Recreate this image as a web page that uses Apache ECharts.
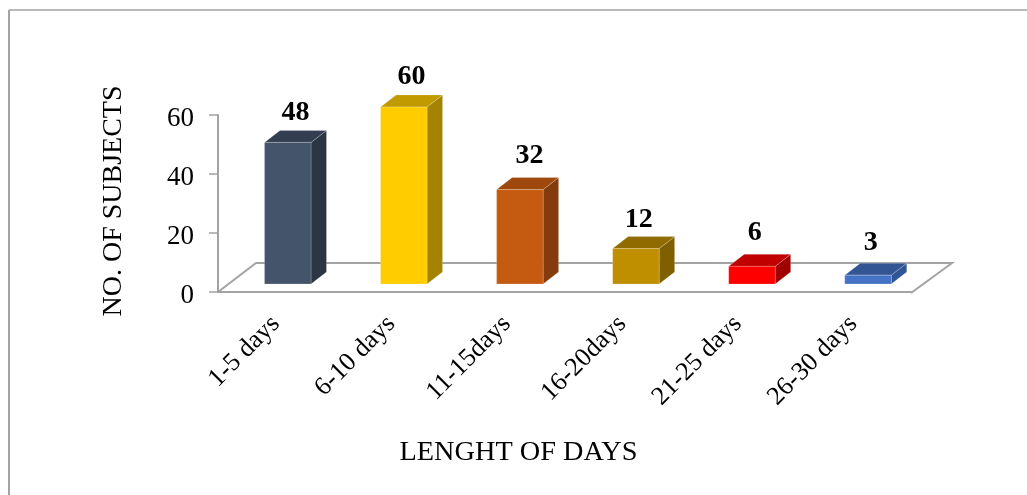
<!DOCTYPE html>
<html>
<head>
<meta charset="utf-8">
<style>html,body{margin:0;padding:0;background:#fff}#chart{width:1027px;height:495px}</style>
<script src="https://cdn.jsdelivr.net/npm/echarts@6/dist/echarts.min.js"></script>
</head>
<body>
<div id="chart"></div>
<script>
const categories = ['1-5 days', '6-10 days', '11-15days', '16-20days', '21-25 days', '26-30 days'];
const subjects = [48, 60, 32, 12, 6, 3];
const frontColors = ['#44546A', '#FFCC00', '#C55A11', '#BF8F00', '#FF0000', '#4472C4'];
const topColors = ['#333F50', '#C09A00', '#9E480E', '#8F6B00', '#C00000', '#335593'];
const sideColors = ['#2A3644', '#A38300', '#843C0C', '#7F6000', '#A00000', '#2F5597'];
const labelLift = [4, 4, 8, 3, 8, 6];
const labelShift = [0, 0, 2, -5, -5, -5];

const serif = '"Liberation Serif", "Times New Roman", serif';
const axisGrey = '#A3A3A3';
const DEPTH_X = 15.5, DEPTH_Y = 12;   // oblique extrusion of each column
const BASE_X = 12, BASE_Y = 8;        // columns stand in the middle of the floor
const DRIFT_X = 0.55;                 // columns spread a touch wider than the ticks
const BAR_W = 46.5;

const chart = echarts.init(document.getElementById('chart'), null, { renderer: 'canvas' });

function renderFloor(params, api) {
  const g = params.coordSys;
  const x0 = g.x, y0 = g.y + g.height, x1 = g.x + g.width;
  return {
    type: 'polyline',
    silent: true,
    shape: { points: [[x0, y0], [x0 + 38, y0 - 29], [x1 + 41, y0 - 29], [x1, y0 + 1]] },
    style: { stroke: axisGrey, lineWidth: 2, fill: 'none' }
  };
}

function renderColumn(params, api) {
  const i = api.value(0);
  const top = api.coord([i, api.value(1)]);
  const base = api.coord([i, 0]);
  const x = top[0] + BASE_X + DRIFT_X * i - BAR_W / 2;
  const yTop = top[1] - BASE_Y;
  const yBot = base[1] - BASE_Y;
  const xr = x + BAR_W;
  const edge = { stroke: 'rgba(255,255,255,0.35)', lineWidth: 0.6 };
  return {
    type: 'group',
    children: [
      { type: 'polygon',
        shape: { points: [[xr, yTop], [xr + DEPTH_X, yTop - DEPTH_Y], [xr + DEPTH_X, yBot - DEPTH_Y], [xr, yBot]] },
        style: Object.assign({ fill: sideColors[i] }, edge) },
      { type: 'polygon',
        shape: { points: [[x, yTop], [x + DEPTH_X, yTop - DEPTH_Y], [xr + DEPTH_X, yTop - DEPTH_Y], [xr, yTop]] },
        style: Object.assign({ fill: topColors[i] }, edge) },
      { type: 'rect',
        shape: { x: x, y: yTop, width: BAR_W, height: yBot - yTop },
        style: Object.assign({ fill: frontColors[i] }, edge) },
      { type: 'text',
        style: {
          x: x + (BAR_W + DEPTH_X) / 2 + labelShift[i],
          y: yTop - DEPTH_Y - labelLift[i],
          text: String(api.value(1)),
          font: 'bold 28px ' + serif,
          fill: '#000',
          align: 'center',
          verticalAlign: 'bottom'
        } }
    ]
  };
}

chart.setOption({
  animation: false,
  backgroundColor: '#fff',
  grid: { left: 218, right: 116, top: 115, bottom: 203 },
  xAxis: {
    type: 'category',
    data: categories,
    axisLine: { lineStyle: { color: axisGrey, width: 2 } },
    axisTick: { alignWithLabel: false, length: 7, lineStyle: { color: axisGrey, width: 1.5 } },
    axisLabel: { rotate: 45, fontFamily: serif, fontSize: 26, color: '#000', margin: 28, interval: 0 },
    name: 'LENGHT OF DAYS',
    nameLocation: 'middle',
    nameGap: 147,
    nameTextStyle: { fontFamily: serif, fontSize: 28.3, color: '#000', padding: [0, 92, 0, 0] }
  },
  yAxis: {
    type: 'value',
    min: 0,
    max: 60,
    interval: 20,
    splitLine: { show: false },
    axisLine: { show: true, lineStyle: { color: axisGrey, width: 2 } },
    axisTick: { show: true, length: 9, lineStyle: { color: axisGrey, width: 1.5 } },
    axisLabel: { fontFamily: serif, fontSize: 27, color: '#000', margin: 24, verticalAlign: 'top', lineHeight: 7 },
    name: 'NO. OF SUBJECTS',
    nameLocation: 'middle',
    nameGap: 90,
    nameRotate: 90,
    nameTextStyle: { fontFamily: serif, fontSize: 28, color: '#000', padding: [0, 0, 0, 5] }
  },
  series: [
    { type: 'custom', silent: true, z: 1, renderItem: renderFloor, data: [0], clip: false },
    {
      type: 'custom',
      z: 3,
      clip: false,
      renderItem: renderColumn,
      encode: { x: 0, y: 1 },
      data: subjects.map((v, i) => [i, v])
    }
  ],
  graphic: [
    { type: 'line', shape: { x1: 9, y1: 10, x2: 1027, y2: 10 }, style: { stroke: axisGrey, lineWidth: 1.5 } },
    { type: 'line', shape: { x1: 9, y1: 10, x2: 9, y2: 495 }, style: { stroke: axisGrey, lineWidth: 2 } }
  ]
});
</script>
</body>
</html>
